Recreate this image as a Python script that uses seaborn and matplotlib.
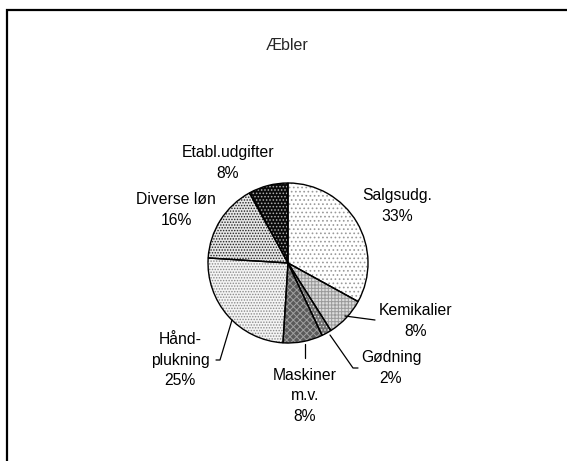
import matplotlib
matplotlib.use("Agg")
import matplotlib.pyplot as plt
import seaborn as sns
from matplotlib.patches import Rectangle

# ---- data ----
categories = ["Salgsudg.", "Kemikalier", "Gødning", "Maskiner\nm.v.", "Hånd-\nplukning", "Diverse løn", "Etabl.udgifter"]
values = [33, 8, 2, 8, 25, 16, 8]
title = "Æbler"

# ---- styling ----
faces = ["#ffffff", "#dcdcdc", "#707070", "#5a5a5a", "#f4f4f4", "#e6e6e6", "#0a0a0a"]
hatches = ["....", "+++++", ".....", "xxxxx", "......", "......", "....."]
hatch_cols = ["#9a9a9a", "#9a9a9a", "#e0e0e0", "#a0a0a0", "#8a8a8a", "#222222", "#b0b0b0"]

sns.set_theme(style="white")
plt.rcParams["font.family"] = ["Liberation Sans", "DejaVu Sans"]
plt.rcParams["hatch.linewidth"] = 0.7

W, H = 567, 461
fig = plt.figure(figsize=(W / 100, H / 100), dpi=100)
ax = fig.add_axes([0, 0, 1, 1])

cx, cy, r = 288, H - 263, 80

# hatch layer
wedges_h, _ = ax.pie(values, startangle=90, counterclock=False, center=(cx, cy), radius=r,
                     colors=faces, frame=True,
                     wedgeprops=dict(linewidth=0))
for w, hc, hcol in zip(wedges_h, hatches, hatch_cols):
    w.set_hatch(hc)
    w.set_edgecolor(hcol)
    w.set_linewidth(0)
# outline layer
ax.pie(values, startangle=90, counterclock=False, center=(cx, cy), radius=r,
       frame=True,
       wedgeprops=dict(facecolor="none", edgecolor="black", linewidth=1.0))
ax.set_xlim(0, W)
ax.set_ylim(0, H)
ax.set_aspect("equal")
ax.axis("off")

# labels (layout positions in pixels, center of text block)
label_pos = [(397, 206), (416, 321), (391, 368), (305, 396), (180, 360), (176, 210), (228, 163)]
fs = 11.3
for name, v, (px, py) in zip(categories, values, label_pos):
    ax.text(px, H - py, f"{name}\n{v}%", ha="center", va="center", fontsize=fs,
            linespacing=1.42, color="black")

# leader lines
leaders = [
    [(345, 316), (375, 320)],
    [(330, 335), (353, 368), (358, 368)],
    [(305, 344), (305, 358)],
    [(232, 320), (220, 360), (216, 360)],
]
for pts in leaders:
    xs = [p[0] for p in pts]
    ys = [H - p[1] for p in pts]
    ax.plot(xs, ys, color="black", lw=0.9)

ax.text(287, H - 46, title, ha="center", va="center", fontsize=11.5)

# frame (top and left visible)
ax.add_patch(Rectangle((7, -60), 700, H - 10 + 60, fill=False, edgecolor="black", lw=1.6, clip_on=False))

fig.savefig("out.png", dpi=100)
